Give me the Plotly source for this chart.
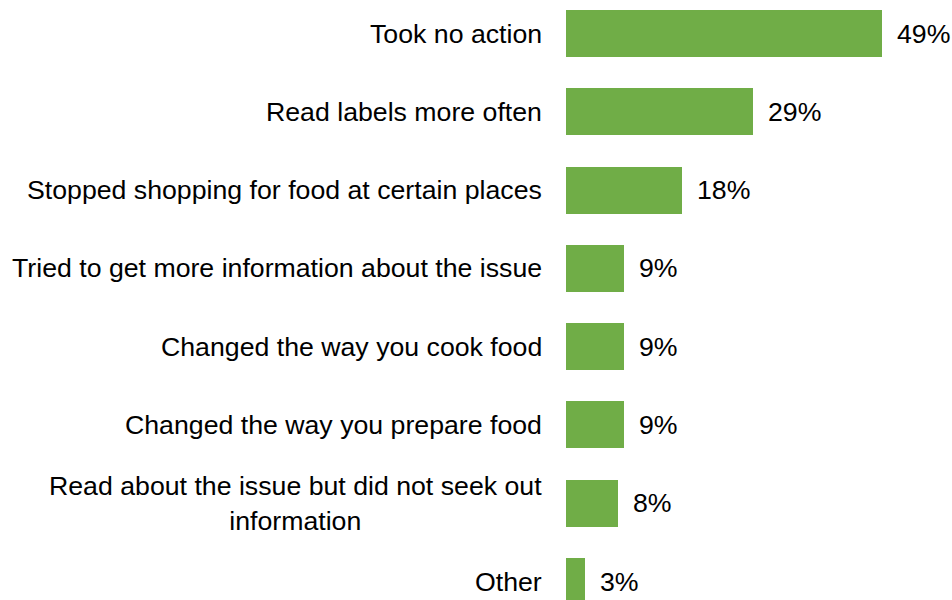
import plotly.graph_objects as go

categories = [
    "Took no action",
    "Read labels more often",
    "Stopped shopping for food at certain places",
    "Tried to get more information about the issue",
    "Changed the way you cook food",
    "Changed the way you prepare food",
    "Read about the issue but did not seek out<br>information",
    "Other",
]
values = [49, 29, 18, 9, 9, 9, 8, 3]
value_labels = ["49%", "29%", "18%", "9%", "9%", "9%", "8%", "3%"]

BAR_COLOR = "#70AD47"
FONT = "Liberation Sans, Arial, sans-serif"
FONT_SIZE = 26.7

positions = list(range(len(categories)))

fig = go.Figure(
    go.Bar(
        x=values,
        y=positions,
        orientation="h",
        width=0.6,
        marker=dict(color=BAR_COLOR, line=dict(width=0)),
        hoverinfo="skip",
    )
)

annotations = []
# category labels, right-aligned against the bars, multi-line ones centered
for pos, cat in zip(positions, categories):
    annotations.append(
        dict(
            x=0, y=pos, xref="x", yref="y",
            text=cat, showarrow=False,
            xanchor="right", yanchor="middle", align="center",
            xshift=-22,
            font=dict(family=FONT, size=FONT_SIZE, color="#000000"),
        )
    )
# value labels just past the end of each bar
for pos, val, lab in zip(positions, values, value_labels):
    annotations.append(
        dict(
            x=val, y=pos, xref="x", yref="y",
            text=lab, showarrow=False,
            xanchor="left", yanchor="middle",
            xshift=13,
            font=dict(family=FONT, size=FONT_SIZE, color="#000000"),
        )
    )

fig.update_layout(
    width=952,
    height=600,
    margin=dict(l=566, r=0, t=0, b=0),
    paper_bgcolor="white",
    plot_bgcolor="white",
    showlegend=False,
    bargap=0,
    annotations=annotations,
    xaxis=dict(range=[0, 59.8], visible=False, fixedrange=True),
    yaxis=dict(
        range=[7.236, -0.428],
        showticklabels=False,
        showgrid=False,
        zeroline=False,
        showline=False,
        ticks="",
        fixedrange=True,
    ),
)

fig.write_html("out.html")
